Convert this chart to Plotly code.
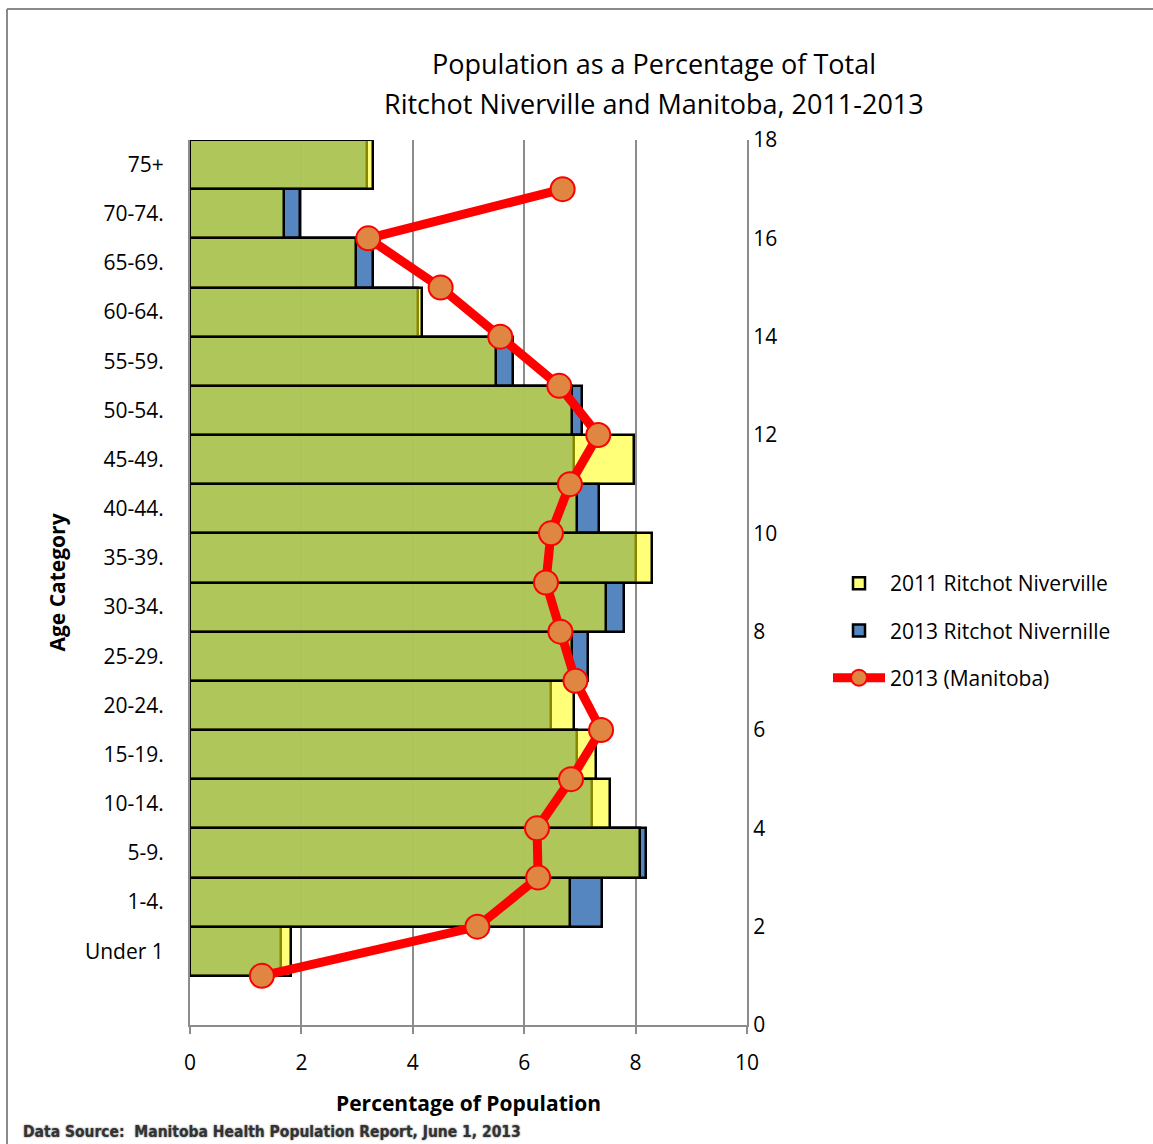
import plotly.graph_objects as go

# Age groups, youngest first (bottom of the chart)
age_groups = ["Under 1", "1-4.", "5-9.", "10-14.", "15-19.", "20-24.", "25-29.",
              "30-34.", "35-39.", "40-44.", "45-49.", "50-54.", "55-59.",
              "60-64.", "65-69.", "70-74.", "75+"]

# Percentage of population, Ritchot Niverville
rn_2011 = [1.81, 6.82, 8.08, 7.54, 7.28, 6.90, 6.86, 7.46, 8.29, 6.94,
           7.97, 6.85, 5.49, 4.16, 2.98, 1.69, 3.29]
rn_2013 = [1.63, 7.39, 8.18, 7.22, 6.94, 6.49, 7.15, 7.79, 8.00, 7.34,
           6.90, 7.03, 5.79, 4.10, 3.29, 1.98, 3.18]

# Percentage of population, Manitoba 2013 (plotted on the secondary 0-18 axis)
mb_2013 = [1.29, 5.16, 6.25, 6.23, 6.84, 7.38, 6.92, 6.65, 6.39, 6.48,
           6.82, 7.33, 6.63, 5.57, 4.50, 3.20, 6.69]

x_ticks = [0, 2, 4, 6, 8, 10]
y2_ticks = [0, 2, 4, 6, 8, 10, 12, 14, 16, 18]

FONT = "'Open Sans', Lato, sans-serif"
GRID = "#8c8c8c"

# plot area in pixels
L, R, T, B = 190, 747, 140, 1025


def px_x(px):
    return (px - L) / (R - L)


def px_y(py):
    return (B - py) / (B - T)


bar_pos = [i + 1.5 for i in range(len(age_groups))]
line_pos = [i + 1 for i in range(len(age_groups))]

fig = go.Figure()

fig.add_trace(go.Bar(
    y=bar_pos, x=rn_2013, orientation="h", width=1,
    name="2013 Ritchot Nivernille", legendrank=2, legendgroup="b",
    marker=dict(color="rgba(79,129,189,0.96)", line=dict(color="black", width=2.5)),
))
fig.add_trace(go.Bar(
    y=bar_pos, x=rn_2011, orientation="h", width=1,
    name="2011 Ritchot Niverville", legendrank=1, legendgroup="a",
    marker=dict(color="rgba(255,255,0,0.53)", line=dict(color="black", width=2.5)),
))
fig.add_trace(go.Scatter(
    x=mb_2013, y=line_pos, yaxis="y2", mode="lines+markers",
    name="2013 (Manitoba)", legendrank=3, legendgroup="c",
    line=dict(color="#ff0000", width=9),
    marker=dict(size=24, color="#de8642", line=dict(color="#ff0000", width=2)),
))

annotations = [
    dict(text="Population as a Percentage of Total", x=px_x(654), y=px_y(64),
         xref="paper", yref="paper", showarrow=False, xanchor="center", yanchor="middle",
         font=dict(family=FONT, size=27, color="black")),
    dict(text="Ritchot Niverville and Manitoba, 2011-2013", x=px_x(654), y=px_y(104),
         xref="paper", yref="paper", showarrow=False, xanchor="center", yanchor="middle",
         font=dict(family=FONT, size=27, color="black")),
    dict(text="Data Source:  Manitoba Health Population Report, June 1, 2013",
         x=px_x(21), y=px_y(1132), xref="paper", yref="paper", showarrow=False,
         xanchor="left", yanchor="middle",
         font=dict(family="'DejaVu Sans Condensed', 'Liberation Sans Narrow', sans-serif",
                   size=15.5, color="#333333", weight="bold",
                   shadow="0px 0px 2px #666666")),
]

shapes = [
    # outer chart border (top and left edges)
    dict(type="line", xref="paper", yref="paper", x0=px_x(7), x1=px_x(1160),
         y0=px_y(9), y1=px_y(9), line=dict(color="#8a8a8a", width=2)),
    dict(type="line", xref="paper", yref="paper", x0=px_x(7), x1=px_x(7),
         y0=px_y(9), y1=px_y(1150), line=dict(color="#8a8a8a", width=2)),
]

fig.update_layout(
    width=1153, height=1144,
    margin=dict(l=L, r=1153 - R, t=T, b=1144 - B, autoexpand=False),
    paper_bgcolor="white", plot_bgcolor="white",
    barmode="overlay", bargap=0,
    font=dict(family=FONT, size=21, color="black"),
    annotations=annotations, shapes=shapes,
    showlegend=True,
    legend=dict(x=px_x(828), y=px_y(563), xanchor="left", yanchor="top",
                font=dict(family=FONT, size=21, color="black"),
                bgcolor="rgba(0,0,0,0)", tracegroupgap=17, itemwidth=52,
                traceorder="grouped"),
    xaxis=dict(range=[0, 10], tickvals=x_ticks, showgrid=True, gridcolor=GRID,
               gridwidth=1.5, showline=True, linecolor=GRID, linewidth=2,
               ticks="outside", ticklen=7, tickcolor=GRID, tickwidth=2,
               ticklabelstandoff=11, zeroline=False,
               title=dict(text="<b>Percentage of Population</b>", standoff=21,
                          font=dict(family=FONT, size=21))),
    yaxis=dict(range=[0, 18], tickvals=bar_pos, ticktext=age_groups,
               showgrid=False, showline=True, linecolor=GRID, linewidth=2,
               ticks="", ticklabelstandoff=20, zeroline=False,
               title=dict(text="<b>Age Category</b>", standoff=14,
                          font=dict(family=FONT, size=21))),
    yaxis2=dict(range=[0, 18], tickvals=y2_ticks, overlaying="y", side="right",
                showgrid=False, showline=True, linecolor=GRID, linewidth=2,
                ticks="", ticklabelstandoff=0, zeroline=False),
)

fig.write_html("out.html")
